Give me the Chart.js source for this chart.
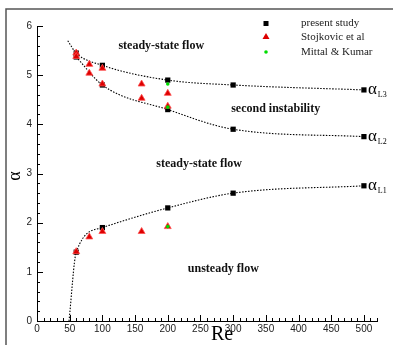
<!DOCTYPE html>
<html>
<head>
<meta charset="utf-8">
<script src="https://cdn.jsdelivr.net/npm/chart.js@4"></script>
<style>
  html, body { margin: 0; padding: 0; background: #fff; }
  #wrap { width: 393px; height: 345px; position: relative; }
</style>
</head>
<body>
<div id="wrap"><canvas id="chart" width="393" height="345"></canvas></div>
<script>
// present study, one array per branch
const reL3 = [60, 100, 200, 300, 500];
const alphaL3 = [5.45, 5.2, 4.9, 4.8, 4.7];
const reL2 = [60, 100, 200, 300, 500];
const alphaL2 = [5.37, 4.8, 4.3, 3.9, 3.75];
const reL1 = [60, 100, 200, 300, 500];
const alphaL1 = [1.4, 1.9, 2.3, 2.6, 2.75];

const curveStartL3 = { re: 47, alpha: 5.7 };
const curveStartL1 = { re: 49, alpha: 0 };

// Stojkovic et al
const reStoj = [60, 60, 80, 80, 100, 100, 160, 160, 200, 200, 60, 80, 100, 160, 200];
const alphaStoj = [5.45, 5.38, 5.22, 5.04, 5.14, 4.82, 4.82, 4.53, 4.63, 4.37, 1.41, 1.71, 1.82, 1.82, 1.92];

// Mittal & Kumar
const reMittal = [200, 200, 200];
const alphaMittal = [4.82, 4.35, 1.92];

const xTicks = [0, 50, 100, 150, 200, 250, 300, 350, 400, 450, 500];
const yTicks = [0, 1, 2, 3, 4, 5, 6];

const pts = (xs, ys) => xs.map((x, i) => ({ x: x, y: ys[i] }));

const regionLabels = [
  { text: 'steady-state flow', x: 190, y: 5.59 },
  { text: 'second instability', x: 365, y: 4.31 },
  { text: 'steady-state flow', x: 248, y: 3.19 },
  { text: 'unsteady flow', x: 285, y: 1.06 }
];

const dotted = {
  showLine: true,
  borderColor: '#000',
  borderWidth: 1.1,
  borderDash: [1.5, 1.5],
  pointRadius: 0,
  cubicInterpolationMode: 'monotone',
  order: 10
};

const serif = '"Liberation Serif", "Times New Roman", serif';

const decorations = {
  id: 'decorations',
  beforeDraw(chart) {
    const ctx = chart.ctx;
    ctx.save();
    ctx.strokeStyle = '#555';
    ctx.lineWidth = 1.5;
    ctx.strokeRect(6, 9, 420, 420);
    ctx.restore();
  },
  afterDatasetsDraw(chart) {
    const ctx = chart.ctx;
    const xs = chart.scales.x, ys = chart.scales.y;
    const area = chart.chartArea;
    ctx.save();

    // inward tick marks
    ctx.strokeStyle = '#000';
    ctx.lineWidth = 1;
    ctx.beginPath();
    for (let v = 0; v <= 520; v += 10) {
      const px = Math.round(xs.getPixelForValue(v)) + 0.5;
      const len = v % 50 === 0 ? 6 : 3;
      ctx.moveTo(px, area.bottom);
      ctx.lineTo(px, area.bottom - len);
    }
    for (let k = 0; k <= 30; k++) {
      const py = Math.round(ys.getPixelForValue(k * 0.2)) + 0.5;
      const len = k % 5 === 0 ? 6 : 3;
      ctx.moveTo(area.left, py);
      ctx.lineTo(area.left + len, py);
    }
    ctx.stroke();

    // region labels
    ctx.fillStyle = '#111';
    ctx.font = 'bold 12px ' + serif;
    ctx.textAlign = 'center';
    ctx.textBaseline = 'middle';
    regionLabels.forEach(l => {
      ctx.fillText(l.text, xs.getPixelForValue(l.x), ys.getPixelForValue(l.y));
    });

    // alpha_L labels next to Re = 500 points
    const tags = [['L3', alphaL3], ['L2', alphaL2], ['L1', alphaL1]];
    tags.forEach(([sub, arr]) => {
      const px = xs.getPixelForValue(reL3[reL3.length - 1]) + 4;
      const py = ys.getPixelForValue(arr[arr.length - 1]);
      ctx.textAlign = 'left';
      ctx.textBaseline = 'alphabetic';
      ctx.font = '17px ' + serif;
      ctx.fillStyle = '#000';
      ctx.fillText('\u03B1', px, py + 4);
      const w = ctx.measureText('\u03B1').width;
      ctx.font = '8px ' + serif;
      ctx.fillText(sub, px + w + 1, py + 7);
    });

    // legend
    const lx = 266;
    ctx.fillStyle = '#000';
    ctx.fillRect(lx - 2.5, 21, 5, 5);
    ctx.fillStyle = '#dd0000';
    ctx.beginPath();
    ctx.moveTo(lx, 33); ctx.lineTo(lx + 3.5, 39); ctx.lineTo(lx - 3.5, 39); ctx.closePath();
    ctx.fill();
    ctx.fillStyle = '#00dd00';
    ctx.beginPath();
    ctx.arc(lx, 52, 1.8, 0, Math.PI * 2);
    ctx.fill();
    ctx.fillStyle = '#222';
    ctx.font = '11px ' + serif;
    ctx.textAlign = 'left';
    ctx.textBaseline = 'middle';
    ctx.fillText('present study', 301, 23);
    ctx.fillText('Stojkovic et al', 301, 37);
    ctx.fillText('Mittal & Kumar', 301, 52);

    // axis titles
    ctx.fillStyle = '#000';
    ctx.font = '20px ' + serif;
    ctx.textAlign = 'center';
    ctx.textBaseline = 'middle';
    ctx.fillText('Re', (area.left + area.right) / 2 + 15, 335);
    ctx.save();
    ctx.translate(15, 176);
    ctx.rotate(-Math.PI / 2);
    ctx.font = '18px ' + serif;
    ctx.fillText('\u03B1', 0, 0);
    ctx.restore();

    ctx.restore();
  }
};

new Chart(document.getElementById('chart'), {
  type: 'scatter',
  data: {
    datasets: [
      Object.assign({ label: 'fit L3', data: [curveStartL3].map(p => ({ x: p.re, y: p.alpha })).concat(pts(reL3, alphaL3)) }, dotted),
      Object.assign({ label: 'fit L2', data: pts(reL2, alphaL2) }, dotted),
      Object.assign({ label: 'fit L1', data: [curveStartL1].map(p => ({ x: p.re, y: p.alpha })).concat(pts(reL1, alphaL1)) }, dotted),
      {
        label: 'present study',
        data: pts(reL3, alphaL3).concat(pts(reL2, alphaL2), pts(reL1, alphaL1)),
        pointStyle: 'rect',
        pointRadius: 3.7,
        backgroundColor: '#000',
        borderColor: '#000',
        borderWidth: 0,
        order: 3
      },
      {
        label: 'Stojkovic et al',
        data: pts(reStoj, alphaStoj),
        pointStyle: 'triangle',
        pointRadius: 4,
        backgroundColor: '#dd0000',
        borderColor: '#ff5050',
        borderWidth: 0.8,
        order: 2
      },
      {
        label: 'Mittal & Kumar',
        data: pts(reMittal, alphaMittal),
        pointStyle: 'circle',
        pointRadius: 1.8,
        backgroundColor: '#00dd00',
        borderColor: '#00dd00',
        borderWidth: 0,
        order: 1
      }
    ]
  },
  options: {
    responsive: false,
    animation: false,
    layout: { padding: { left: 0, top: 26, right: 16, bottom: 0 } },
    plugins: { legend: { display: false }, tooltip: { enabled: false } },
    scales: {
      x: {
        type: 'linear',
        min: 0,
        max: 520,
        afterFit: s => { s.height = 24; },
        afterBuildTicks: s => { s.ticks = xTicks.map(v => ({ value: v })); },
        grid: { display: false, drawTicks: false },
        border: { display: true, color: '#000', width: 1 },
        ticks: { padding: 2, color: '#222', font: { family: '"Liberation Sans", Arial, sans-serif', size: 10 } }
      },
      y: {
        type: 'linear',
        min: 0,
        max: 6,
        afterFit: s => { s.width = 37; },
        afterBuildTicks: s => { s.ticks = yTicks.map(v => ({ value: v })); },
        grid: { display: false, drawTicks: false },
        border: { display: true, color: '#000', width: 1 },
        ticks: { padding: 5, color: '#222', font: { family: '"Liberation Sans", Arial, sans-serif', size: 10 } }
      }
    }
  },
  plugins: [decorations]
});
</script>
</body>
</html>
